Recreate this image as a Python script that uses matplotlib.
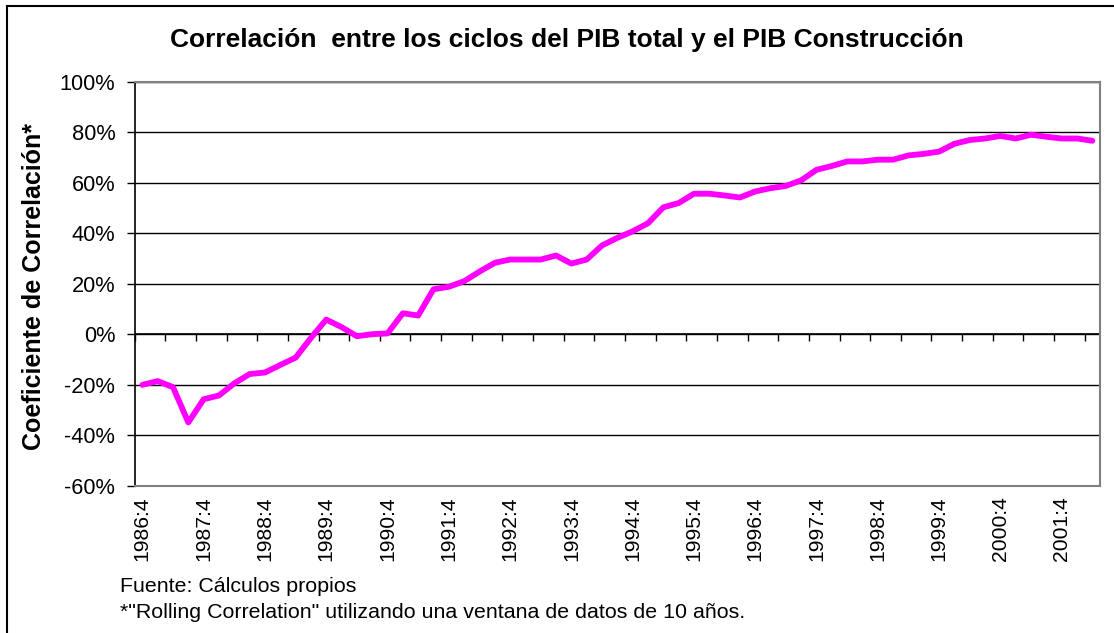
import matplotlib
matplotlib.use("Agg")
import matplotlib.pyplot as plt
from matplotlib.ticker import FixedLocator, FuncFormatter

plt.rcParams['font.family'] = ['Liberation Sans', 'DejaVu Sans']

# Quarterly periods 1986:4 .. 2002:2
start_year, start_q, n_periods = 1986, 4, 63
periods = []
y, q = start_year, start_q
for _ in range(n_periods):
    periods.append(f"{y}:{q}")
    q += 1
    if q > 4:
        q, y = 1, y + 1

# Rolling correlation (%)
correlation = [
    -20.1, -18.6, -21.0, -35.0, -25.8, -24.3, -19.5, -15.8, -15.2, -12.2,
    -9.3, -1.5, 5.8, 2.8, -0.8, 0.0, 0.3, 8.3, 7.4, 17.8,
    18.8, 21.0, 24.8, 28.3, 29.6, 29.6, 29.6, 31.2, 28.0, 29.6,
    35.2, 38.2, 40.8, 44.0, 50.3, 52.0, 55.7, 55.7, 55.0, 54.2,
    56.6, 57.9, 58.8, 61.0, 65.2, 66.7, 68.5, 68.5, 69.2, 69.2,
    70.9, 71.5, 72.4, 75.5, 77.0, 77.6, 78.6, 77.6, 79.1, 78.3,
    77.6, 77.6, 76.7,
]

tick_labels = ["1986:4", "1987:4", "1988:4", "1989:4", "1990:4", "1991:4",
               "1992:4", "1993:4", "1994:4", "1995:4", "1996:4", "1997:4",
               "1998:4", "1999:4", "2000:4", "2001:4"]
y_ticks = [-60, -40, -20, 0, 20, 40, 60, 80, 100]

title = "Correlación  entre los ciclos del PIB total y el PIB Construcción"
ylabel = "Coeficiente de Correlación*"
note1 = "Fuente: Cálculos propios"
note2 = "*\"Rolling Correlation\" utilizando una ventana de datos de 10 años."

fig = plt.figure(figsize=(11.14, 6.33), dpi=100)
ax = fig.add_axes([134.7 / 1114, 1 - 485.5 / 633, (1100 - 134.7) / 1114, (485.5 - 82) / 633])

x = list(range(len(periods)))
ax.plot(x, correlation, color='#FF00FF', linewidth=4.2,
        solid_capstyle='round', solid_joinstyle='round', zorder=3)

ax.set_xlim(-0.5, len(periods) - 0.5)
ax.set_ylim(-60, 100)

# y axis
ax.set_yticks(y_ticks)
ax.yaxis.set_major_formatter(FuncFormatter(lambda v, p: f"{int(round(v))}%"))
ax.tick_params(axis='y', direction='out', length=6, width=1, color='black',
               labelsize=15.7, pad=8)
ax.grid(axis='y', color='#000000', linewidth=1.0, zorder=1)

# x axis labels (at bottom)
label_pos = [periods.index(l) for l in tick_labels]
ax.set_xticks(label_pos)
ax.set_xticklabels(tick_labels, rotation=90)
ax.tick_params(axis='x', length=0, labelsize=15.2, pad=8)

# category axis crossing at 0%
ax.axhline(0, color='black', linewidth=1.2, zorder=2)
sec = ax.secondary_xaxis(60 / 160)
sec.xaxis.set_major_locator(FixedLocator([i - 0.5 for i in range(0, len(periods) + 1, 2)]))
sec.tick_params(axis='x', direction='out', length=5, width=1, color='black', labelbottom=False, labeltop=False)
for s in sec.spines.values():
    s.set_visible(False)

# spines
for s in ['top', 'right', 'bottom']:
    ax.spines[s].set_color('#808080')
    ax.spines[s].set_linewidth(1.5)
ax.spines['left'].set_color('black')
ax.spines['left'].set_linewidth(1.2)

fig.text(567 / 1114, 1 - 40 / 633, title, ha='center', va='center',
         fontsize=19, fontweight='bold')
fig.text(34 / 1114, 1 - 287 / 633, ylabel, ha='center', va='center',
         rotation=90, fontsize=18, fontweight='bold')
fig.text(120 / 1114, 1 - 586 / 633, note1, ha='left', va='center', fontsize=15.4)
fig.text(120 / 1114, 1 - 612 / 633, note2, ha='left', va='center', fontsize=15.4)

# figure frame (left and top edges visible)
fig.add_artist(plt.Line2D([7 / 1114, 7 / 1114], [0, 1 - 6 / 633], transform=fig.transFigure,
                          color='black', linewidth=1.5))
fig.add_artist(plt.Line2D([7 / 1114, 1], [1 - 6 / 633, 1 - 6 / 633], transform=fig.transFigure,
                          color='black', linewidth=1.5))

fig.savefig("out.png", dpi=100)
